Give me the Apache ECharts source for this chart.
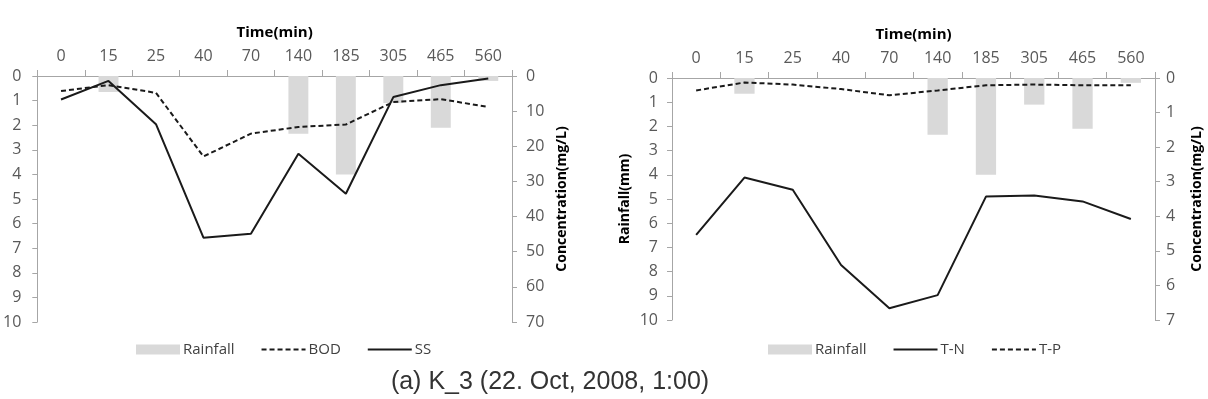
<!DOCTYPE html>
<html>
<head>
<meta charset="utf-8">
<script src="https://cdn.jsdelivr.net/npm/echarts@6/dist/echarts.min.js"></script>
<style>
  html, body { margin: 0; padding: 0; background: #fff; }
  #chart { width: 1208px; height: 399px; }
</style>
</head>
<body>
<div id="chart"></div>
<script>
// sampling times (min), shared by both panels
const times = ['0', '15', '25', '40', '70', '140', '185', '305', '465', '560'];
// rainfall (mm), same storm in both panels
const rainfall = [0, 0.65, 0, 0, 0, 2.35, 4.0, 1.1, 2.1, 0.2];
// left panel, mg/L
const bod = [4.3, 2.6, 4.8, 22.9, 16.4, 14.5, 13.8, 7.4, 6.6, 8.8];
const ss = [6.7, 1.4, 13.7, 46.0, 44.9, 22.1, 33.5, 6.0, 2.6, 0.7];
// right panel, mg/L
const tn = [4.54, 2.88, 3.23, 5.41, 6.66, 6.28, 3.43, 3.40, 3.57, 4.08];
const tp = [0.36, 0.13, 0.19, 0.32, 0.50, 0.36, 0.21, 0.19, 0.21, 0.21];

const caption = '(a) K_3 (22. Oct, 2008, 1:00)';

const font = '"Open Sans", sans-serif';
const axisGray = '#a6a6a6';
const labelGray = '#595959';
const ink = '#1a1a1a';
const barGray = '#d9d9d9';

const chart = echarts.init(document.getElementById('chart'));

const topAxis = (gridIndex) => ({
    type: 'category',
    gridIndex: gridIndex,
    position: 'top',
    data: times,
    name: 'Time(min)',
    nameLocation: 'middle',
    nameGap: 36,
    nameTextStyle: { fontFamily: font, fontSize: 15, fontWeight: 'bold', color: '#000' },
    axisLine: { lineStyle: { color: axisGray, width: 1 } },
    axisTick: { show: true, length: 6, lineStyle: { color: axisGray } },
    axisLabel: { fontFamily: font, fontSize: 16, color: labelGray, margin: 12 },
    splitLine: { show: false }
});

const bottomAxis = (gridIndex) => ({
    type: 'category',
    gridIndex: gridIndex,
    position: 'bottom',
    data: times,
    axisLine: { lineStyle: { color: axisGray, width: 1 } },
    axisTick: { show: false },
    axisLabel: { show: false },
    splitLine: { show: false }
});

const valueAxis = (gridIndex, side, max, interval, margin, name, nameGap) => ({
    type: 'value',
    gridIndex: gridIndex,
    position: side,
    min: 0,
    max: max,
    interval: interval,
    inverse: true,
    name: name,
    nameLocation: 'middle',
    nameGap: nameGap,
    nameTextStyle: { fontFamily: font, fontSize: 14, fontWeight: 'bold', color: '#000' },
    axisLine: { show: true, lineStyle: { color: axisGray, width: 1 } },
    axisTick: { show: true, length: 5, lineStyle: { color: axisGray } },
    axisLabel: { fontFamily: font, fontSize: 16, color: labelGray, margin: margin },
    splitLine: { show: false }
});

const lineSeries = (name, xi, yi, data, dashed) => ({
    name: name,
    type: 'line',
    xAxisIndex: xi,
    yAxisIndex: yi,
    data: data,
    symbol: 'none',
    lineStyle: { color: ink, width: 2, type: dashed ? [5, 3] : 'solid' },
    itemStyle: { color: ink },
    z: 3
});

const barSeries = (xi, yi) => ({
    name: 'Rainfall',
    type: 'bar',
    xAxisIndex: xi,
    yAxisIndex: yi,
    data: rainfall,
    barWidth: '42%',
    itemStyle: { color: barGray },
    z: 1
});

// legend entry for a line: keep the stroke, hide the marker
const lineItem = (name) => ({ name: name, itemStyle: { opacity: 0 } });

const legendBase = {
    top: 337,
    itemWidth: 44,
    itemHeight: 10,
    itemGap: 26,
    textStyle: { fontFamily: font, fontSize: 15, color: '#404040', padding: [0, 0, 0, -2] }
};

chart.setOption({
    backgroundColor: '#fff',
    animation: false,
    grid: [
        { left: 31, top: 76, width: 481, height: 246 },
        { left: 672, top: 78, width: 483, height: 242 }
    ],
    xAxis: [topAxis(0), bottomAxis(0), topAxis(1), bottomAxis(1)],
    yAxis: [
        valueAxis(0, 'left', 10, 1, 16, '', 0),
        valueAxis(0, 'right', 70, 10, 14, 'Concentration(mg/L)', 43),
        valueAxis(1, 'left', 10, 1, 14, 'Rainfall(mm)', 40),
        valueAxis(1, 'right', 7, 1, 11, 'Concentration(mg/L)', 35)
    ],
    legend: [
        Object.assign({}, legendBase, {
            left: 131,
            data: [{ name: 'Rainfall', icon: 'rect' }, lineItem('BOD'), lineItem('SS')]
        }),
        Object.assign({}, legendBase, {
            left: 763,
            data: [{ name: 'Rainfall', icon: 'rect' }, lineItem('T-N'), lineItem('T-P')]
        })
    ],
    series: [
        barSeries(0, 0),
        lineSeries('BOD', 0, 1, bod, true),
        lineSeries('SS', 0, 1, ss, false),
        barSeries(2, 2),
        lineSeries('T-N', 2, 3, tn, false),
        lineSeries('T-P', 2, 3, tp, true)
    ],
    graphic: [{
        type: 'text',
        x: 550,
        y: 382,
        style: {
            text: caption,
            align: 'center',
            verticalAlign: 'middle',
            font: '25px "Liberation Sans", sans-serif',
            fill: '#333'
        }
    }]
});
</script>
</body>
</html>
